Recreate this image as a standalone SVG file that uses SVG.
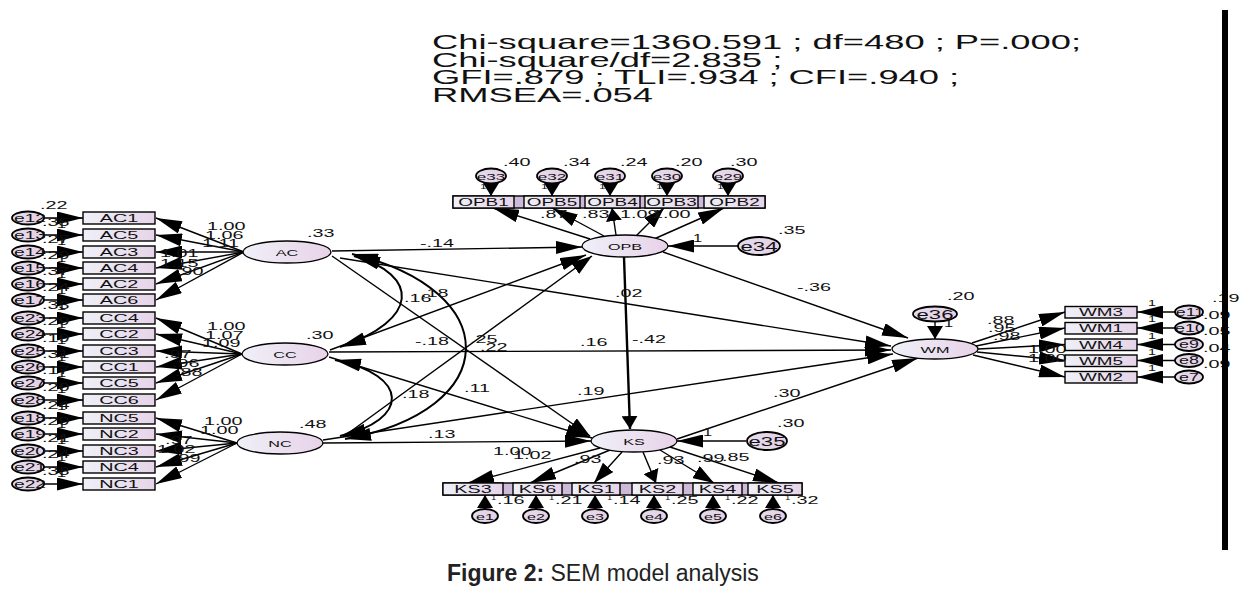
<svg xmlns="http://www.w3.org/2000/svg" width="1245" height="595" viewBox="0 0 1245 595">
<defs>
<linearGradient id="gb" x1="0" y1="0" x2="1" y2="0"><stop offset="0" stop-color="#eef0f8"/><stop offset="1" stop-color="#e6d4e8"/></linearGradient>
<linearGradient id="gl" x1="0" y1="0" x2="1" y2="0"><stop offset="0" stop-color="#eff0f8"/><stop offset="1" stop-color="#e8d2e8"/></linearGradient>
<linearGradient id="ge" x1="0" y1="0" x2="1" y2="0"><stop offset="0" stop-color="#e4dcee"/><stop offset="1" stop-color="#e6cfe4"/></linearGradient>
<marker id="h" viewBox="0 0 26 13" refX="26" refY="6.5" markerWidth="26" markerHeight="13" markerUnits="userSpaceOnUse" orient="auto-start-reverse"><path d="M0,0L26,6.5L0,13z"/></marker>
<marker id="d" viewBox="0 0 21 14" refX="21" refY="7" markerWidth="21" markerHeight="14" markerUnits="userSpaceOnUse" orient="auto-start-reverse"><path d="M0,0L21,7L0,14z"/></marker>
<marker id="v" viewBox="0 0 13 16" refX="13" refY="8" markerWidth="13" markerHeight="16" markerUnits="userSpaceOnUse" orient="auto-start-reverse"><path d="M0,0L13,8L0,16z"/></marker>
</defs>
<style>
.ln{stroke:#000;stroke-width:1.4;fill:none}
.th{stroke-width:2.4}
.cv{stroke-width:2}
.box{fill:url(#gb);stroke:#000;stroke-width:1.4}
.sep{fill:#cdb9d8;stroke:#000;stroke-width:1.4}
.lat{fill:url(#gl);stroke:#000;stroke-width:1.3}
.err{fill:url(#ge);stroke:#000;stroke-width:1.8}
text{font-family:"Liberation Sans",Arial,sans-serif;fill:#111}
.c{text-anchor:middle}
.n{font-size:11px}
.b{font-size:11px}
.s{font-size:10.5px}
.q{font-size:9px}
.o{font-size:8px}
.k{font-size:9.5px}
.fit{font-size:21px}
.cap{font-size:23px;fill:#222}
</style>

<g id="fit-stats">
<text class="fit" transform="translate(432 49) scale(1.73 1)">Chi-square=1360.591 ; df=480 ; P=.000;</text>
<text class="fit" transform="translate(432 66.5) scale(1.73 1)">Chi-square/df=2.835 ;</text>
<text class="fit" transform="translate(432 84) scale(1.73 1)">GFI=.879 ; TLI=.934 ; CFI=.940 ;</text>
<text class="fit" transform="translate(432 101.5) scale(1.73 1)">RMSEA=.054</text>
</g>

<g id="connectors">
<line class="ln" x1="44" y1="218" x2="83" y2="218" marker-end="url(#h)"/>
<line class="ln" x1="44" y1="235" x2="83" y2="235" marker-end="url(#h)"/>
<line class="ln" x1="44" y1="252" x2="83" y2="252" marker-end="url(#h)"/>
<line class="ln" x1="44" y1="268" x2="83" y2="268" marker-end="url(#h)"/>
<line class="ln" x1="44" y1="284" x2="83" y2="284" marker-end="url(#h)"/>
<line class="ln" x1="44" y1="300" x2="83" y2="300" marker-end="url(#h)"/>
<line class="ln" x1="44" y1="318" x2="83" y2="318" marker-end="url(#h)"/>
<line class="ln" x1="44" y1="334" x2="83" y2="334" marker-end="url(#h)"/>
<line class="ln" x1="44" y1="351" x2="83" y2="351" marker-end="url(#h)"/>
<line class="ln" x1="44" y1="367" x2="83" y2="367" marker-end="url(#h)"/>
<line class="ln" x1="44" y1="383" x2="83" y2="383" marker-end="url(#h)"/>
<line class="ln" x1="44" y1="400" x2="83" y2="400" marker-end="url(#h)"/>
<line class="ln" x1="44" y1="418" x2="83" y2="418" marker-end="url(#h)"/>
<line class="ln" x1="44" y1="434" x2="83" y2="434" marker-end="url(#h)"/>
<line class="ln" x1="44" y1="451" x2="83" y2="451" marker-end="url(#h)"/>
<line class="ln" x1="44" y1="467" x2="83" y2="467" marker-end="url(#h)"/>
<line class="ln" x1="44" y1="484" x2="83" y2="484" marker-end="url(#h)"/>
<line class="ln" x1="244" y1="252" x2="156" y2="218" marker-end="url(#h)"/>
<line class="ln" x1="244" y1="252" x2="156" y2="235" marker-end="url(#h)"/>
<line class="ln" x1="244" y1="252" x2="156" y2="252" marker-end="url(#h)"/>
<line class="ln" x1="244" y1="252" x2="156" y2="268" marker-end="url(#h)"/>
<line class="ln" x1="244" y1="252" x2="156" y2="284" marker-end="url(#h)"/>
<line class="ln" x1="244" y1="252" x2="156" y2="300" marker-end="url(#h)"/>
<line class="ln" x1="242" y1="354" x2="156" y2="318" marker-end="url(#h)"/>
<line class="ln" x1="242" y1="354" x2="156" y2="334" marker-end="url(#h)"/>
<line class="ln" x1="242" y1="354" x2="156" y2="351" marker-end="url(#h)"/>
<line class="ln" x1="242" y1="354" x2="156" y2="367" marker-end="url(#h)"/>
<line class="ln" x1="242" y1="354" x2="156" y2="383" marker-end="url(#h)"/>
<line class="ln" x1="242" y1="354" x2="156" y2="400" marker-end="url(#h)"/>
<line class="ln" x1="237" y1="443" x2="156" y2="418" marker-end="url(#h)"/>
<line class="ln" x1="237" y1="443" x2="156" y2="434" marker-end="url(#h)"/>
<line class="ln" x1="237" y1="443" x2="156" y2="451" marker-end="url(#h)"/>
<line class="ln" x1="237" y1="443" x2="156" y2="467" marker-end="url(#h)"/>
<line class="ln" x1="237" y1="443" x2="156" y2="484" marker-end="url(#h)"/>
<path class="ln cv" d="M354,256 C420,275 420,320 340,347" marker-start="url(#h)" marker-end="url(#h)"/>
<path class="ln cv" d="M335,360 C410,375 410,420 340,436" marker-start="url(#h)" marker-end="url(#h)"/>
<path class="ln cv" d="M352,254 C505,290 505,410 345,439" marker-start="url(#h)" marker-end="url(#h)"/>
<line class="ln" x1="332" y1="251" x2="582" y2="247" marker-end="url(#h)"/>
<line class="ln" x1="330" y1="350" x2="586" y2="255" marker-end="url(#h)"/>
<line class="ln" x1="343" y1="437" x2="592" y2="256" marker-end="url(#d)"/>
<line class="ln" x1="332" y1="256" x2="590" y2="436" marker-end="url(#d)"/>
<line class="ln" x1="329" y1="357" x2="592" y2="438" marker-end="url(#h)"/>
<line class="ln" x1="323" y1="443" x2="591" y2="441" marker-end="url(#h)"/>
<line class="ln" x1="340" y1="258" x2="891" y2="346" marker-end="url(#h)"/>
<line class="ln" x1="329" y1="352" x2="891" y2="350" marker-end="url(#h)"/>
<line class="ln" x1="323" y1="440" x2="893" y2="354" marker-end="url(#h)"/>
<line class="ln th" x1="624" y1="257" x2="630" y2="429" marker-end="url(#v)"/>
<line class="ln" x1="663" y1="252" x2="908" y2="338" marker-end="url(#h)"/>
<line class="ln" x1="677" y1="439" x2="918" y2="358" marker-end="url(#h)"/>
<line class="ln" x1="738" y1="246" x2="668" y2="246" marker-end="url(#h)"/>
<line class="ln" x1="746" y1="441" x2="677" y2="441" marker-end="url(#h)"/>
<line class="ln" x1="935" y1="321" x2="935" y2="339" marker-end="url(#v)"/>
<line class="ln" x1="491" y1="183" x2="491" y2="196" marker-end="url(#v)"/>
<line class="ln" x1="552" y1="183" x2="552" y2="196" marker-end="url(#v)"/>
<line class="ln" x1="610" y1="183" x2="610" y2="196" marker-end="url(#v)"/>
<line class="ln" x1="667" y1="183" x2="667" y2="196" marker-end="url(#v)"/>
<line class="ln" x1="728" y1="183" x2="728" y2="196" marker-end="url(#v)"/>
<line class="ln" x1="590" y1="239" x2="493" y2="208" marker-end="url(#h)"/>
<line class="ln" x1="604" y1="236" x2="552" y2="208" marker-end="url(#h)"/>
<line class="ln" x1="616" y1="235" x2="612" y2="208" marker-end="url(#v)"/>
<line class="ln" x1="636" y1="236" x2="664" y2="208" marker-end="url(#d)"/>
<line class="ln" x1="654" y1="239" x2="724" y2="208" marker-end="url(#h)"/>
<line class="ln" x1="600" y1="448" x2="468" y2="483" marker-end="url(#h)"/>
<line class="ln" x1="610" y1="450" x2="530" y2="483" marker-end="url(#h)"/>
<line class="ln" x1="622" y1="452" x2="594" y2="483" marker-end="url(#d)"/>
<line class="ln" x1="643" y1="452" x2="656" y2="483" marker-end="url(#v)"/>
<line class="ln" x1="660" y1="450" x2="714" y2="483" marker-end="url(#d)"/>
<line class="ln" x1="670" y1="447" x2="779" y2="483" marker-end="url(#h)"/>
<line class="ln" x1="485" y1="509" x2="485" y2="495" marker-end="url(#v)"/>
<line class="ln" x1="536" y1="509" x2="536" y2="495" marker-end="url(#v)"/>
<line class="ln" x1="595" y1="509" x2="595" y2="495" marker-end="url(#v)"/>
<line class="ln" x1="654" y1="509" x2="654" y2="495" marker-end="url(#v)"/>
<line class="ln" x1="713" y1="509" x2="713" y2="495" marker-end="url(#v)"/>
<line class="ln" x1="773" y1="509" x2="773" y2="495" marker-end="url(#v)"/>
<line class="ln" x1="972" y1="343" x2="1065" y2="312" marker-end="url(#h)"/>
<line class="ln" x1="976" y1="346" x2="1065" y2="328" marker-end="url(#h)"/>
<line class="ln" x1="978" y1="349" x2="1065" y2="344.5" marker-end="url(#h)"/>
<line class="ln" x1="977" y1="352" x2="1065" y2="360.5" marker-end="url(#h)"/>
<line class="ln" x1="973" y1="355" x2="1065" y2="377" marker-end="url(#h)"/>
<line class="ln" x1="1176" y1="312" x2="1137" y2="312" marker-end="url(#h)"/>
<line class="ln" x1="1176" y1="328" x2="1137" y2="328" marker-end="url(#h)"/>
<line class="ln" x1="1176" y1="344.5" x2="1137" y2="344.5" marker-end="url(#h)"/>
<line class="ln" x1="1176" y1="360.5" x2="1137" y2="360.5" marker-end="url(#h)"/>
<line class="ln" x1="1176" y1="377" x2="1137" y2="377" marker-end="url(#h)"/>
</g>

<g id="AC1"><rect class="box" x="83" y="212" width="72" height="12"/><text class="b c" transform="translate(119 222) scale(1.8 1)">AC1</text></g>
<g id="AC5"><rect class="box" x="83" y="229" width="72" height="12"/><text class="b c" transform="translate(119 239) scale(1.8 1)">AC5</text></g>
<g id="AC3"><rect class="box" x="83" y="246" width="72" height="12"/><text class="b c" transform="translate(119 256) scale(1.8 1)">AC3</text></g>
<g id="AC4"><rect class="box" x="83" y="262" width="72" height="12"/><text class="b c" transform="translate(119 272) scale(1.8 1)">AC4</text></g>
<g id="AC2"><rect class="box" x="83" y="278" width="72" height="12"/><text class="b c" transform="translate(119 288) scale(1.8 1)">AC2</text></g>
<g id="AC6"><rect class="box" x="83" y="294" width="72" height="12"/><text class="b c" transform="translate(119 304) scale(1.8 1)">AC6</text></g>
<g id="CC4"><rect class="box" x="83" y="312" width="72" height="12"/><text class="b c" transform="translate(119 322) scale(1.8 1)">CC4</text></g>
<g id="CC2"><rect class="box" x="83" y="328" width="72" height="12"/><text class="b c" transform="translate(119 338) scale(1.8 1)">CC2</text></g>
<g id="CC3"><rect class="box" x="83" y="345" width="72" height="12"/><text class="b c" transform="translate(119 355) scale(1.8 1)">CC3</text></g>
<g id="CC1"><rect class="box" x="83" y="361" width="72" height="12"/><text class="b c" transform="translate(119 371) scale(1.8 1)">CC1</text></g>
<g id="CC5"><rect class="box" x="83" y="377" width="72" height="12"/><text class="b c" transform="translate(119 387) scale(1.8 1)">CC5</text></g>
<g id="CC6"><rect class="box" x="83" y="394" width="72" height="12"/><text class="b c" transform="translate(119 404) scale(1.8 1)">CC6</text></g>
<g id="NC5"><rect class="box" x="83" y="412" width="72" height="12"/><text class="b c" transform="translate(119 422) scale(1.8 1)">NC5</text></g>
<g id="NC2"><rect class="box" x="83" y="428" width="72" height="12"/><text class="b c" transform="translate(119 438) scale(1.8 1)">NC2</text></g>
<g id="NC3"><rect class="box" x="83" y="445" width="72" height="12"/><text class="b c" transform="translate(119 455) scale(1.8 1)">NC3</text></g>
<g id="NC4"><rect class="box" x="83" y="461" width="72" height="12"/><text class="b c" transform="translate(119 471) scale(1.8 1)">NC4</text></g>
<g id="NC1"><rect class="box" x="83" y="478" width="72" height="12"/><text class="b c" transform="translate(119 488) scale(1.8 1)">NC1</text></g>

<g id="e12"><ellipse class="err" cx="28" cy="218" rx="16" ry="6.5"/><text class="b c" transform="translate(30 222) scale(1.75 1)">e12</text></g>
<g id="e13"><ellipse class="err" cx="28" cy="235" rx="16" ry="6.5"/><text class="b c" transform="translate(30 239) scale(1.75 1)">e13</text></g>
<g id="e14"><ellipse class="err" cx="28" cy="252" rx="16" ry="6.5"/><text class="b c" transform="translate(30 256) scale(1.75 1)">e14</text></g>
<g id="e15"><ellipse class="err" cx="28" cy="268" rx="16" ry="6.5"/><text class="b c" transform="translate(30 272) scale(1.75 1)">e15</text></g>
<g id="e16"><ellipse class="err" cx="28" cy="284" rx="16" ry="6.5"/><text class="b c" transform="translate(30 288) scale(1.75 1)">e16</text></g>
<g id="e17"><ellipse class="err" cx="28" cy="300" rx="16" ry="6.5"/><text class="b c" transform="translate(30 304) scale(1.75 1)">e17</text></g>
<g id="e23"><ellipse class="err" cx="28" cy="318" rx="16" ry="6.5"/><text class="b c" transform="translate(30 322) scale(1.75 1)">e23</text></g>
<g id="e24"><ellipse class="err" cx="28" cy="334" rx="16" ry="6.5"/><text class="b c" transform="translate(30 338) scale(1.75 1)">e24</text></g>
<g id="e25"><ellipse class="err" cx="28" cy="351" rx="16" ry="6.5"/><text class="b c" transform="translate(30 355) scale(1.75 1)">e25</text></g>
<g id="e26"><ellipse class="err" cx="28" cy="367" rx="16" ry="6.5"/><text class="b c" transform="translate(30 371) scale(1.75 1)">e26</text></g>
<g id="e27"><ellipse class="err" cx="28" cy="383" rx="16" ry="6.5"/><text class="b c" transform="translate(30 387) scale(1.75 1)">e27</text></g>
<g id="e28"><ellipse class="err" cx="28" cy="400" rx="16" ry="6.5"/><text class="b c" transform="translate(30 404) scale(1.75 1)">e28</text></g>
<g id="e18"><ellipse class="err" cx="28" cy="418" rx="16" ry="6.5"/><text class="b c" transform="translate(30 422) scale(1.75 1)">e18</text></g>
<g id="e19"><ellipse class="err" cx="28" cy="434" rx="16" ry="6.5"/><text class="b c" transform="translate(30 438) scale(1.75 1)">e19</text></g>
<g id="e20"><ellipse class="err" cx="28" cy="451" rx="16" ry="6.5"/><text class="b c" transform="translate(30 455) scale(1.75 1)">e20</text></g>
<g id="e21"><ellipse class="err" cx="28" cy="467" rx="16" ry="6.5"/><text class="b c" transform="translate(30 471) scale(1.75 1)">e21</text></g>
<g id="e22"><ellipse class="err" cx="28" cy="484" rx="16" ry="6.5"/><text class="b c" transform="translate(30 488) scale(1.75 1)">e22</text></g>

<g id="AC"><ellipse class="lat" cx="287" cy="252" rx="44" ry="11"/><text class="q c" transform="translate(287 255.5) scale(1.8 1)">AC</text></g>
<g id="CC"><ellipse class="lat" cx="285" cy="354" rx="43" ry="11"/><text class="q c" transform="translate(285 357.5) scale(1.8 1)">CC</text></g>
<g id="NC"><ellipse class="lat" cx="280" cy="443" rx="43" ry="11"/><text class="q c" transform="translate(280 446.5) scale(1.8 1)">NC</text></g>
<g id="OPB"><ellipse class="lat" cx="625" cy="246" rx="43" ry="11"/><text class="q c" transform="translate(625 249.5) scale(1.8 1)">OPB</text></g>
<g id="KS"><ellipse class="lat" cx="634" cy="441" rx="43" ry="11"/><text class="q c" transform="translate(634 444.5) scale(1.8 1)">KS</text></g>
<g id="WM"><ellipse class="lat" cx="935" cy="349" rx="43" ry="10"/><text class="q c" transform="translate(935 352.5) scale(1.8 1)">WM</text></g>

<g id="e34"><ellipse class="err" cx="759" cy="246" rx="21" ry="9"/><text class="c" font-size="13" transform="translate(759 251) scale(1.7 1)">e34</text></g>
<g id="e35"><ellipse class="err" cx="767" cy="441" rx="20" ry="9"/><text class="c" font-size="13" transform="translate(767 446) scale(1.7 1)">e35</text></g>
<g id="e36"><ellipse class="err" cx="935" cy="314" rx="22" ry="7.5"/><text class="c" font-size="13" transform="translate(935 319) scale(1.7 1)">e36</text></g>

<g id="OPB-row"><rect class="sep" x="453" y="196" width="312" height="12"/></g>
<g id="OPB1"><rect class="box" x="453" y="196" width="61" height="12"/><text class="s c" transform="translate(483.5 206) scale(1.8 1)">OPB1</text></g>
<g id="OPB5"><rect class="box" x="524" y="196" width="56" height="12"/><text class="s c" transform="translate(552 206) scale(1.8 1)">OPB5</text></g>
<g id="OPB4"><rect class="box" x="585" y="196" width="55" height="12"/><text class="s c" transform="translate(612.5 206) scale(1.8 1)">OPB4</text></g>
<g id="OPB3"><rect class="box" x="645" y="196" width="53" height="12"/><text class="s c" transform="translate(671.5 206) scale(1.8 1)">OPB3</text></g>
<g id="OPB2"><rect class="box" x="704" y="196" width="61" height="12"/><text class="s c" transform="translate(734.5 206) scale(1.8 1)">OPB2</text></g>
<g id="e33"><ellipse class="err" cx="491" cy="176" rx="15" ry="7.5"/><text class="k c" transform="translate(491 179.5) scale(1.8 1)">e33</text></g>
<g id="e32"><ellipse class="err" cx="552" cy="176" rx="15" ry="7.5"/><text class="k c" transform="translate(552 179.5) scale(1.8 1)">e32</text></g>
<g id="e31"><ellipse class="err" cx="610" cy="176" rx="15" ry="7.5"/><text class="k c" transform="translate(610 179.5) scale(1.8 1)">e31</text></g>
<g id="e30"><ellipse class="err" cx="667" cy="176" rx="15" ry="7.5"/><text class="k c" transform="translate(667 179.5) scale(1.8 1)">e30</text></g>
<g id="e29"><ellipse class="err" cx="728" cy="176" rx="15" ry="7.5"/><text class="k c" transform="translate(728 179.5) scale(1.8 1)">e29</text></g>

<g id="KS-row"><rect class="sep" x="443" y="483" width="359" height="12"/></g>
<g id="KS3"><rect class="box" x="443" y="483" width="60" height="12"/><text class="b c" transform="translate(473 493) scale(1.8 1)">KS3</text></g>
<g id="KS6"><rect class="box" x="513" y="483" width="49" height="12"/><text class="b c" transform="translate(537.5 493) scale(1.8 1)">KS6</text></g>
<g id="KS1"><rect class="box" x="572" y="483" width="48" height="12"/><text class="b c" transform="translate(596 493) scale(1.8 1)">KS1</text></g>
<g id="KS2"><rect class="box" x="632" y="483" width="51" height="12"/><text class="b c" transform="translate(657.5 493) scale(1.8 1)">KS2</text></g>
<g id="KS4"><rect class="box" x="693" y="483" width="49" height="12"/><text class="b c" transform="translate(717.5 493) scale(1.8 1)">KS4</text></g>
<g id="KS5"><rect class="box" x="748" y="483" width="54" height="12"/><text class="b c" transform="translate(775 493) scale(1.8 1)">KS5</text></g>
<g id="e1"><ellipse class="err" cx="485" cy="516" rx="13" ry="7"/><text class="k c" transform="translate(485 519.5) scale(1.7 1)">e1</text></g>
<g id="e2"><ellipse class="err" cx="536" cy="516" rx="13" ry="7"/><text class="k c" transform="translate(536 519.5) scale(1.7 1)">e2</text></g>
<g id="e3"><ellipse class="err" cx="595" cy="516" rx="13" ry="7"/><text class="k c" transform="translate(595 519.5) scale(1.7 1)">e3</text></g>
<g id="e4"><ellipse class="err" cx="654" cy="516" rx="13" ry="7"/><text class="k c" transform="translate(654 519.5) scale(1.7 1)">e4</text></g>
<g id="e5"><ellipse class="err" cx="713" cy="516" rx="13" ry="7"/><text class="k c" transform="translate(713 519.5) scale(1.7 1)">e5</text></g>
<g id="e6"><ellipse class="err" cx="773" cy="516" rx="13" ry="7"/><text class="k c" transform="translate(773 519.5) scale(1.7 1)">e6</text></g>

<g id="WM3"><rect class="box" x="1065" y="306.5" width="72" height="11.5"/><text class="s c" transform="translate(1101 316) scale(1.8 1)">WM3</text></g>
<g id="WM1"><rect class="box" x="1065" y="322.5" width="72" height="11.5"/><text class="s c" transform="translate(1101 332) scale(1.8 1)">WM1</text></g>
<g id="WM4"><rect class="box" x="1065" y="339" width="72" height="11.5"/><text class="s c" transform="translate(1101 348.5) scale(1.8 1)">WM4</text></g>
<g id="WM5"><rect class="box" x="1065" y="355" width="72" height="11.5"/><text class="s c" transform="translate(1101 364.5) scale(1.8 1)">WM5</text></g>
<g id="WM2"><rect class="box" x="1065" y="371.5" width="72" height="11.5"/><text class="s c" transform="translate(1101 381) scale(1.8 1)">WM2</text></g>
<g id="e11"><ellipse class="err" cx="1189" cy="312" rx="14" ry="6.5"/><text class="s c" transform="translate(1190 315.5) scale(1.7 1)">e11</text></g>
<g id="e10"><ellipse class="err" cx="1189" cy="328" rx="14" ry="6.5"/><text class="s c" transform="translate(1190 331.5) scale(1.7 1)">e10</text></g>
<g id="e9"><ellipse class="err" cx="1189" cy="344.5" rx="14" ry="6.5"/><text class="s c" transform="translate(1189 348) scale(1.7 1)">e9</text></g>
<g id="e8"><ellipse class="err" cx="1189" cy="360.5" rx="14" ry="6.5"/><text class="s c" transform="translate(1189 364) scale(1.7 1)">e8</text></g>
<g id="e7"><ellipse class="err" cx="1189" cy="377" rx="14" ry="6.5"/><text class="s c" transform="translate(1189 380.5) scale(1.7 1)">e7</text></g>

<g id="labels">
<text class="n" transform="translate(40 209) scale(1.8 1)">.22</text>
<text class="n" transform="translate(42 226) scale(1.8 1)">.35</text>
<text class="n" transform="translate(42 243) scale(1.8 1)">.27</text>
<text class="n" transform="translate(42 259) scale(1.8 1)">.29</text>
<text class="n" transform="translate(42 275) scale(1.8 1)">.37</text>
<text class="n" transform="translate(42 291) scale(1.8 1)">.24</text>
<text class="n" transform="translate(42 309) scale(1.8 1)">.33</text>
<text class="n" transform="translate(42 325) scale(1.8 1)">.29</text>
<text class="n" transform="translate(42 342) scale(1.8 1)">.19</text>
<text class="n" transform="translate(42 358) scale(1.8 1)">.31</text>
<text class="n" transform="translate(42 374) scale(1.8 1)">.17</text>
<text class="n" transform="translate(42 391) scale(1.8 1)">.20</text>
<text class="n" transform="translate(42 409) scale(1.8 1)">.24</text>
<text class="n" transform="translate(42 425) scale(1.8 1)">.29</text>
<text class="n" transform="translate(42 442) scale(1.8 1)">.21</text>
<text class="n" transform="translate(42 458) scale(1.8 1)">.24</text>
<text class="n" transform="translate(42 475) scale(1.8 1)">.33</text>
<text class="n" transform="translate(57 228) scale(1.5 1)">1</text>
<text class="n" transform="translate(57 245) scale(1.5 1)">1</text>
<text class="n" transform="translate(57 262) scale(1.5 1)">1</text>
<text class="n" transform="translate(57 278) scale(1.5 1)">1</text>
<text class="n" transform="translate(57 294) scale(1.5 1)">1</text>
<text class="n" transform="translate(57 310) scale(1.5 1)">1</text>
<text class="n" transform="translate(57 328) scale(1.5 1)">1</text>
<text class="n" transform="translate(57 344) scale(1.5 1)">1</text>
<text class="n" transform="translate(57 361) scale(1.5 1)">1</text>
<text class="n" transform="translate(57 377) scale(1.5 1)">1</text>
<text class="n" transform="translate(57 393) scale(1.5 1)">1</text>
<text class="n" transform="translate(57 410) scale(1.5 1)">1</text>
<text class="n" transform="translate(57 428) scale(1.5 1)">1</text>
<text class="n" transform="translate(57 444) scale(1.5 1)">1</text>
<text class="n" transform="translate(57 461) scale(1.5 1)">1</text>
<text class="n" transform="translate(57 477) scale(1.5 1)">1</text>
<text class="n" transform="translate(207 230) scale(1.8 1)">1.00</text>
<text class="n" transform="translate(205 239) scale(1.8 1)">1.06</text>
<text class="n" transform="translate(202 247) scale(1.8 1)">1.11</text>
<text class="n" transform="translate(160 257) scale(1.8 1)">1.01</text>
<text class="n" transform="translate(160 267) scale(1.8 1)">1.15</text>
<text class="n" transform="translate(176 275) scale(1.8 1)">.90</text>
<text class="n" transform="translate(207 330) scale(1.8 1)">1.00</text>
<text class="n" transform="translate(205 339) scale(1.8 1)">1.07</text>
<text class="n" transform="translate(202 347) scale(1.8 1)">1.09</text>
<text class="n" transform="translate(164 358) scale(1.8 1)">.97</text>
<text class="n" transform="translate(172 367) scale(1.8 1)">.96</text>
<text class="n" transform="translate(175 376) scale(1.8 1)">.88</text>
<text class="n" transform="translate(204 425) scale(1.8 1)">1.00</text>
<text class="n" transform="translate(200 434) scale(1.8 1)">1.00</text>
<text class="n" transform="translate(165 444) scale(1.8 1)">.97</text>
<text class="n" transform="translate(157 453) scale(1.8 1)">1.02</text>
<text class="n" transform="translate(173 462) scale(1.8 1)">.99</text>
<text class="n" transform="translate(307 237) scale(1.8 1)">.33</text>
<text class="n" transform="translate(306 339) scale(1.8 1)">.30</text>
<text class="n" transform="translate(299 428) scale(1.8 1)">.48</text>
<text class="n" transform="translate(778 234) scale(1.8 1)">.35</text>
<text class="n" transform="translate(777 427) scale(1.8 1)">.30</text>
<text class="n" transform="translate(947 300) scale(1.8 1)">.20</text>
<text class="n" transform="translate(693 242) scale(1.5 1)">1</text>
<text class="n" transform="translate(703 436) scale(1.5 1)">1</text>
<text class="n" transform="translate(944 327) scale(1.5 1)">1</text>
<text class="n" transform="translate(420 247) scale(1.8 1)">-.14</text>
<text class="n" transform="translate(404 302) scale(1.8 1)">.16</text>
<text class="n" transform="translate(421 297) scale(1.8 1)">.18</text>
<text class="n" transform="translate(402 398) scale(1.8 1)">.18</text>
<text class="n" transform="translate(415 345) scale(1.8 1)">-.18</text>
<text class="n" transform="translate(470 343) scale(1.8 1)">.25</text>
<text class="n" transform="translate(480 351) scale(1.8 1)">.22</text>
<text class="n" transform="translate(464 392) scale(1.8 1)">.11</text>
<text class="n" transform="translate(428 438) scale(1.8 1)">.13</text>
<text class="n" transform="translate(580 346) scale(1.8 1)">.16</text>
<text class="n" transform="translate(577 395) scale(1.8 1)">.19</text>
<text class="n" transform="translate(615 297) scale(1.8 1)">.02</text>
<text class="n" transform="translate(632 343) scale(1.8 1)">-.42</text>
<text class="n" transform="translate(797 291) scale(1.8 1)">-.36</text>
<text class="n" transform="translate(773 397) scale(1.8 1)">.30</text>
<text class="n" transform="translate(503 166) scale(1.8 1)">.40</text>
<text class="n" transform="translate(563 166) scale(1.8 1)">.34</text>
<text class="n" transform="translate(620 166) scale(1.8 1)">.24</text>
<text class="n" transform="translate(675 166) scale(1.8 1)">.20</text>
<text class="n" transform="translate(730 166) scale(1.8 1)">.30</text>
<text class="o" transform="translate(480 189) scale(1.5 1)">1</text>
<text class="o" transform="translate(541 189) scale(1.5 1)">1</text>
<text class="o" transform="translate(599 189) scale(1.5 1)">1</text>
<text class="o" transform="translate(656 189) scale(1.5 1)">1</text>
<text class="o" transform="translate(717 189) scale(1.5 1)">1</text>
<text class="n" transform="translate(540 218) scale(1.8 1)">.87</text>
<text class="n" transform="translate(582 218) scale(1.8 1)">.83</text>
<text class="n" transform="translate(620 218) scale(1.8 1)">1.09</text>
<text class="n" transform="translate(652 218) scale(1.8 1)">1.00</text>
<text class="n" transform="translate(493 455) scale(1.8 1)">1.00</text>
<text class="n" transform="translate(513 459) scale(1.8 1)">1.02</text>
<text class="n" transform="translate(574 463) scale(1.8 1)">.93</text>
<text class="n" transform="translate(657 464) scale(1.8 1)">.93</text>
<text class="n" transform="translate(697 462) scale(1.8 1)">.99</text>
<text class="n" transform="translate(722 461) scale(1.8 1)">.85</text>
<text class="n" transform="translate(497 504) scale(1.8 1)">.16</text>
<text class="n" transform="translate(555 504) scale(1.8 1)">.21</text>
<text class="n" transform="translate(613 504) scale(1.8 1)">.14</text>
<text class="n" transform="translate(671 504) scale(1.8 1)">.25</text>
<text class="n" transform="translate(731 504) scale(1.8 1)">.22</text>
<text class="n" transform="translate(791 504) scale(1.8 1)">.32</text>
<text class="o" transform="translate(491 500) scale(1.2 1)">1</text>
<text class="o" transform="translate(549 500) scale(1.2 1)">1</text>
<text class="o" transform="translate(607 500) scale(1.2 1)">1</text>
<text class="o" transform="translate(665 500) scale(1.2 1)">1</text>
<text class="o" transform="translate(725 500) scale(1.2 1)">1</text>
<text class="o" transform="translate(785 500) scale(1.2 1)">1</text>
<text class="n" transform="translate(987 324) scale(1.8 1)">.88</text>
<text class="n" transform="translate(988 332) scale(1.8 1)">.95</text>
<text class="n" transform="translate(993 340) scale(1.8 1)">.98</text>
<text class="n" transform="translate(1028 353) scale(1.8 1)">1.00</text>
<text class="n" transform="translate(1028 362) scale(1.8 1)">1.00</text>
<text class="q" transform="translate(1148 306) scale(1.6 1)">1</text>
<text class="q" transform="translate(1148 322) scale(1.6 1)">1</text>
<text class="q" transform="translate(1148 338.5) scale(1.6 1)">1</text>
<text class="q" transform="translate(1148 354.5) scale(1.6 1)">1</text>
<text class="q" transform="translate(1148 371) scale(1.6 1)">1</text>
<text class="n" transform="translate(1212 302) scale(1.8 1)">.19</text>
<text class="n" transform="translate(1203 319) scale(1.8 1)">.09</text>
<text class="n" transform="translate(1203 335) scale(1.8 1)">.05</text>
<text class="n" transform="translate(1203 351.5) scale(1.8 1)">.04</text>
<text class="n" transform="translate(1203 367.5) scale(1.8 1)">.09</text>
</g>

<rect id="bar" x="1222" y="10" width="6" height="540" fill="#000"/>

<g id="caption">
<text class="cap" x="447" y="581"><tspan font-weight="bold">Figure 2:</tspan> SEM model analysis</text>
</g>
</svg>
